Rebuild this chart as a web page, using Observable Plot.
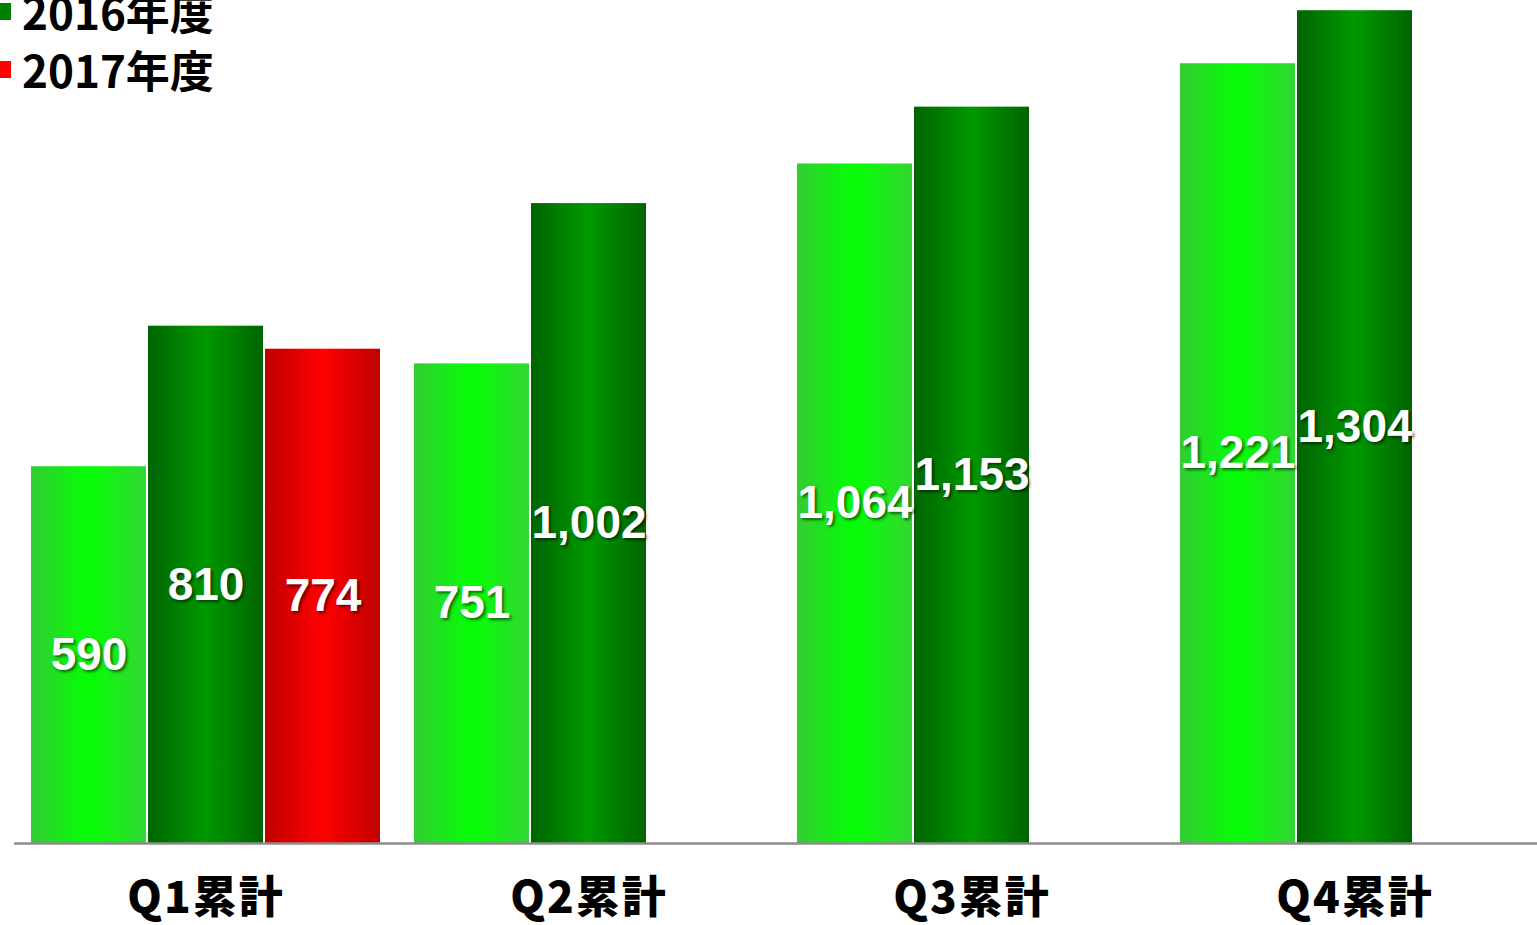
<!DOCTYPE html>
<html>
<head>
<meta charset="utf-8">
<script src="https://cdn.jsdelivr.net/npm/d3@7"></script>
<script src="https://cdn.jsdelivr.net/npm/@observablehq/plot@0.6"></script>
<style>
  html, body { margin: 0; padding: 0; background: #fff; overflow: hidden; }
  #wrap { position: relative; width: 1537px; height: 925px; }
  #chart svg { display: block; }
  .legend-row { position: absolute; left: 0; height: 44px; line-height: 44px; font-family: "Noto Sans CJK JP", sans-serif; font-weight: 700; font-size: 44px; color: #000; white-space: nowrap; }
  .legend-row .sw { position: absolute; left: -6px; top: 14px; width: 17px; height: 17px; }
  .legend-row .lt { position: absolute; left: 22px; top: 0; }
  g[aria-label="text"] text { text-shadow: 2px 2px 3px rgba(0,0,0,0.55); }
  g[aria-label="fx-axis tick label"] text { letter-spacing: 2px; }
</style>
</head>
<body>
<div id="wrap">
  <div id="chart"></div>
  <div id="legend"></div>
</div>
<script>
// ---- data ----
const quarters = ["Q1累計", "Q2累計", "Q3累計", "Q4累計"];
const seriesNames = ["2015年度", "2016年度", "2017年度"];
const values2015 = [590, 751, 1064, 1221];
const values2016 = [810, 1002, 1153, 1304];
const values2017 = [774, null, null, null];
const legendNames = ["2016年度", "2017年度"];
const legendColors = ["#008000", "#ff0000"];

const seriesValues = [values2015, values2016, values2017];
const data = [];
seriesNames.forEach((s, si) => {
  quarters.forEach((q, qi) => {
    const v = seriesValues[si][qi];
    if (v != null) data.push({quarter: q, series: s, value: v});
  });
});

const gradIds = ["g2015", "g2016", "g2017"];
const gradStops = [
  ["#33cc33", "#05ff05", "#33d633"],
  ["#006400", "#009900", "#006400"],
  ["#c00000", "#ff0000", "#c00000"]
];

function defs() {
  const svg = d3.create("svg:g");
  const d = svg.append("defs");
  gradIds.forEach((id, i) => {
    const g = d.append("linearGradient").attr("id", id)
      .attr("x1", "0%").attr("x2", "100%").attr("y1", "0%").attr("y2", "0%");
    g.append("stop").attr("offset", "0%").attr("stop-color", gradStops[i][0]);
    g.append("stop").attr("offset", "50%").attr("stop-color", gradStops[i][1]);
    g.append("stop").attr("offset", "100%").attr("stop-color", gradStops[i][2]);
  });
  return svg.node();
}

const W = 1537, H = 925;
const ML = 12;
const groupW = 383.75;
const fmt = d3.format(",");

const chart = Plot.plot({
  width: W,
  height: H,
  marginLeft: ML,
  marginRight: 0,
  marginTop: 0,
  marginBottom: 82,
  style: {fontFamily: "'Liberation Sans', Arial, sans-serif", background: "transparent"},
  fx: {domain: quarters, range: [ML, ML + groupW * 4], paddingInner: 0, paddingOuter: 0, label: null},
  x: {domain: seriesNames, range: [ML, ML + groupW], paddingInner: 0, paddingOuter: 0.136, axis: null},
  y: {domain: [0, 1320], axis: null},
  color: {type: "ordinal", domain: seriesNames, range: gradIds.map(id => `url(#${id})`)},
  marks: [
    defs,
    Plot.barY(data, {fx: "quarter", x: "series", y: "value", fill: "series", insetLeft: 1, insetRight: 1}),
    Plot.ruleY([0], {stroke: "#8c8c8c", strokeWidth: 2.5}),
    Plot.text(data, {
      fx: "quarter", x: "series", y: d => d.value / 2,
      text: d => fmt(d.value),
      fill: "white", fontSize: 46, fontWeight: "bold",
      fontFamily: "'Liberation Sans', Arial, sans-serif"
    }),
    Plot.axisFx({
      anchor: "bottom", tickSize: 0, tickPadding: 38, label: null,
      fontSize: 44, fontWeight: 900, fill: "#000",
      fontFamily: "'Noto Sans CJK JP', sans-serif"
    })
  ]
});
document.getElementById("chart").append(chart);

// legend overlay
const legend = document.getElementById("legend");
const legendTops = [-11, 47];
legendNames.forEach((n, i) => {
  const row = document.createElement("div");
  row.className = "legend-row";
  row.style.top = legendTops[i] + "px";
  row.style.width = "240px";
  const sw = document.createElement("span");
  sw.className = "sw";
  sw.style.background = legendColors[i];
  const lt = document.createElement("span");
  lt.className = "lt";
  lt.textContent = n;
  row.append(sw, lt);
  legend.append(row);
});
</script>
</body>
</html>
